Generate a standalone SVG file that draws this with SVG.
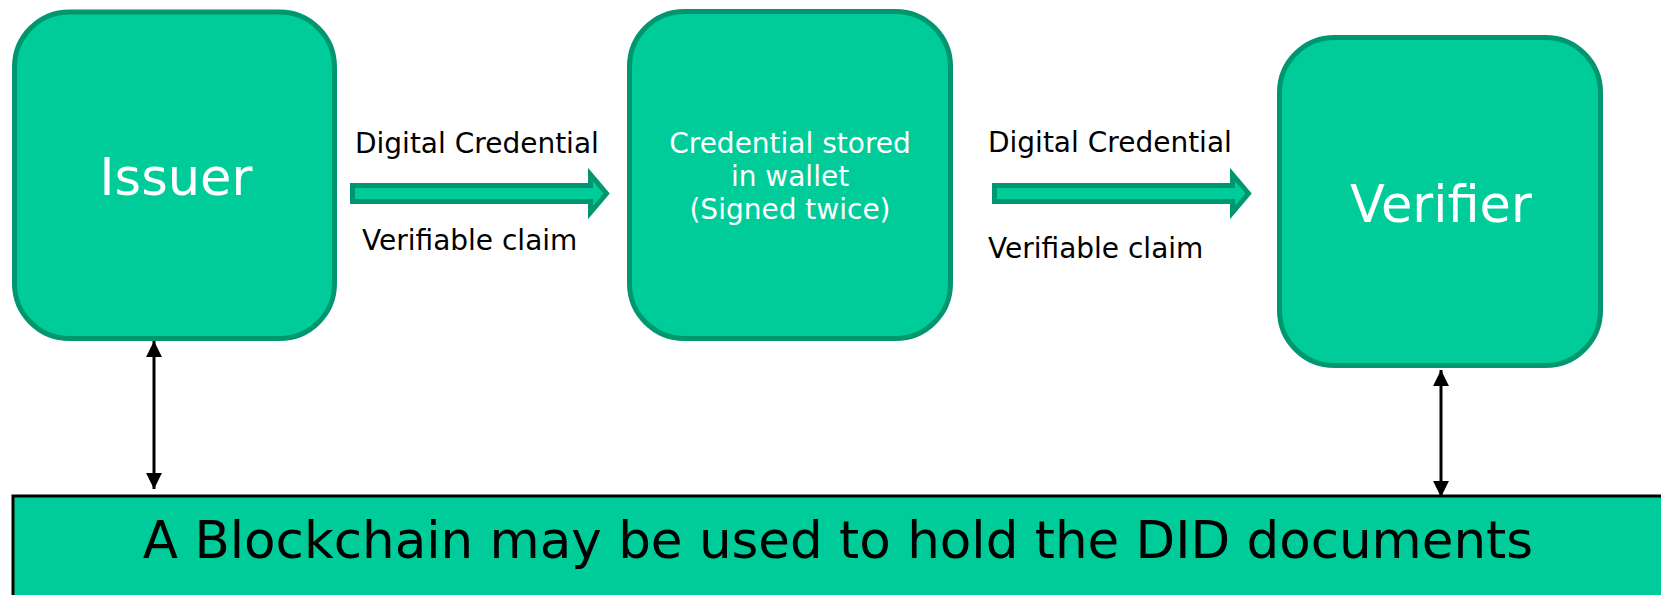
<svg xmlns="http://www.w3.org/2000/svg" width="1661" height="595" viewBox="0 0 1661 595">
<style>
.node{fill:#00CC99;stroke:#00966F;stroke-width:5}
.ntext{fill:#FFFFFF;font-family:"DejaVu Sans",Verdana,sans-serif;text-anchor:middle}
.label{fill:#000000;font-family:"DejaVu Sans",Verdana,sans-serif;font-size:28px}
.fat{fill:#00CC99;stroke:#00966F;stroke-width:5;stroke-linejoin:miter}
.thin{stroke:#000;stroke-width:3;fill:none}
</style>
<defs>
<marker id="ah" viewBox="0 0 10 10" refX="10" refY="5" markerWidth="5.3" markerHeight="5.3" markerUnits="strokeWidth" orient="auto-start-reverse">
<path d="M0,0 L10,5 L0,10 z" fill="#000"/>
</marker>
</defs>
<rect width="1661" height="595" fill="#FFFFFF"/>
<g id="issuer">
<rect class="node" x="14.5" y="12" width="320" height="326.5" rx="55" ry="55"/>
<text class="ntext" x="176" y="195" font-size="51">Issuer</text>
</g>
<g id="wallet">
<rect class="node" x="629.5" y="11.5" width="321" height="327" rx="55" ry="55"/>
<text class="ntext" font-size="28" x="790" y="153">Credential stored</text>
<text class="ntext" font-size="28" x="790" y="186">in wallet</text>
<text class="ntext" font-size="28" x="790" y="219">(Signed twice)</text>
</g>
<g id="verifier">
<rect class="node" x="1279.5" y="37.5" width="321" height="328" rx="55" ry="55"/>
<text class="ntext" x="1441" y="222" font-size="51">Verifier</text>
</g>
<g id="blockchain">
<rect x="13" y="496" width="1660" height="120" fill="#00CC99" stroke="#000" stroke-width="3"/>
<text x="838" y="558" font-family="'DejaVu Sans',Verdana,sans-serif" font-size="51.5" text-anchor="middle" fill="#000">A Blockchain may be used to hold the DID documents</text>
</g>
<g id="connectors">
<polygon class="fat" points="352.5,185.5 590.5,185.5 590.5,174.5 606.5,193.5 590.5,212.5 590.5,201.5 352.5,201.5"/>
<polygon class="fat" points="994.5,185.5 1232.5,185.5 1232.5,174.5 1248.5,193.5 1232.5,212.5 1232.5,201.5 994.5,201.5"/>
<line class="thin" x1="154" y1="341" x2="154" y2="489" marker-start="url(#ah)" marker-end="url(#ah)"/>
<line class="thin" x1="1441" y1="370" x2="1441" y2="497" marker-start="url(#ah)" marker-end="url(#ah)"/>
</g>
<g id="labels">
<text class="label" x="355" y="153">Digital Credential</text>
<text class="label" x="362" y="250">Verifiable claim</text>
<text class="label" x="988" y="152">Digital Credential</text>
<text class="label" x="988" y="258">Verifiable claim</text>
</g>
</svg>
